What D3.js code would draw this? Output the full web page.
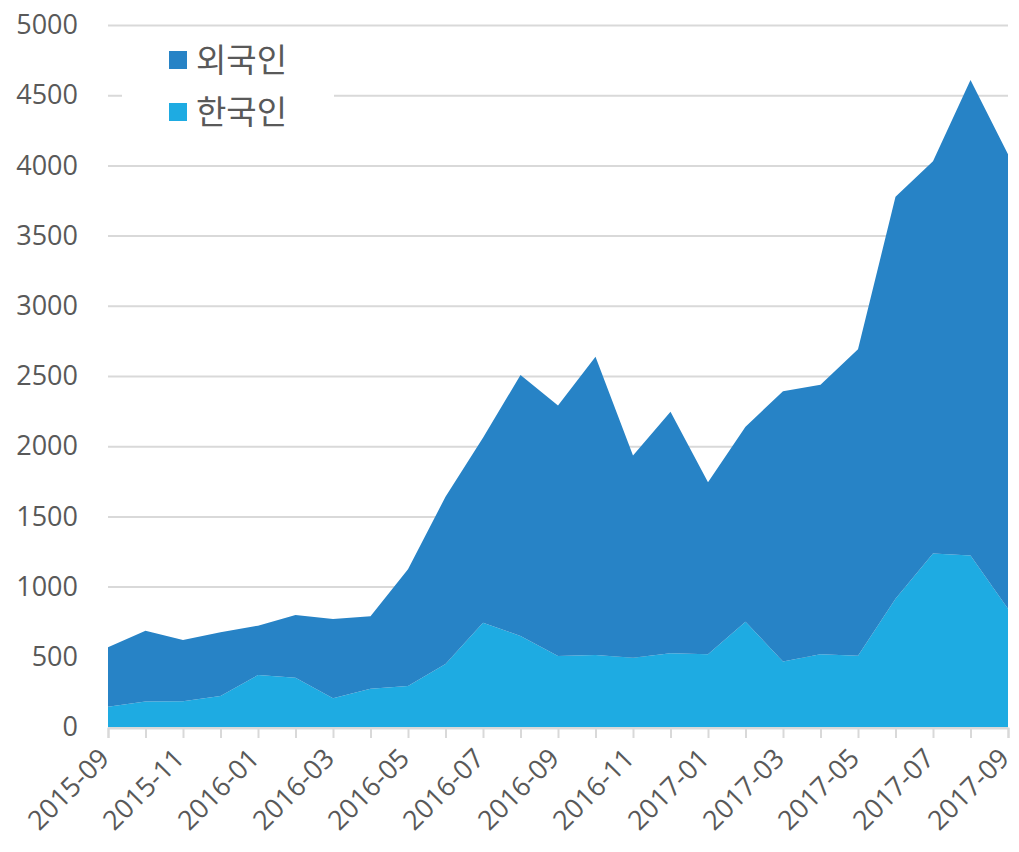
<!DOCTYPE html>
<html>
<head>
<meta charset="utf-8">
<script src="https://cdn.jsdelivr.net/npm/d3@7/dist/d3.min.js"></script>
<style>
  body { margin: 0; background: #fff; }
</style>
</head>
<body>
<script>
// monthly visitors, 2015-09 .. 2017-09
var months = ["2015-09","2015-10","2015-11","2015-12","2016-01","2016-02","2016-03","2016-04",
              "2016-05","2016-06","2016-07","2016-08","2016-09","2016-10","2016-11","2016-12",
              "2017-01","2017-02","2017-03","2017-04","2017-05","2017-06","2017-07","2017-08","2017-09"];
var korean  = [145, 182, 183, 221, 370, 351, 204, 273, 292, 449, 743, 648, 506, 513, 494, 525,
               518, 750, 467, 519, 507, 913, 1236, 1221, 843];
var foreign = [423, 504, 437, 453, 352, 447, 565, 515, 831, 1191, 1317, 1859, 1783, 2125, 1439, 1721,
               1226, 1389, 1924, 1918, 2183, 2863, 2793, 3387, 3237];
var seriesNames  = ["한국인", "외국인"];
var seriesColors = ["#1eabe2", "#2783c6"];
var yTicks = [0, 500, 1000, 1500, 2000, 2500, 3000, 3500, 4000, 4500, 5000];

const width = 1019, height = 852;
const xLeft = 108, xRight = 1008, yTop = 25, yBottom = 727;

const svg = d3.select("body")
              .append("svg")
              .attr("width", width)
              .attr("height", height)
              .style("font-family", "'Open Sans', sans-serif");

var x = d3.scalePoint().domain(months).range([xLeft, xRight]);
var y = d3.scaleLinear().domain([0, 5000]).range([yBottom, yTop]);

// gridlines + y labels
var yAxis = svg.append("g")
  .attr("transform", "translate(" + xLeft + ",0)")
  .call(d3.axisLeft(y).tickValues(yTicks).tickFormat(d3.format("d"))
          .tickSize(-(xRight - xLeft)).tickPadding(30));
yAxis.select(".domain").remove();
yAxis.selectAll("line").attr("stroke", "#d9d9d9").attr("stroke-width", 2);
yAxis.selectAll("text")
  .attr("fill", "#595959")
  .style("font-size", "27px")
  .style("font-family", "'Open Sans', sans-serif");

// stacked data
var table = months.map(function(m, i) {
  return { month: m, "한국인": korean[i], "외국인": foreign[i] };
});
var stack = d3.stack().keys(seriesNames);
var layers = stack(table);

var area = d3.area()
  .x(function(d) { return x(d.data.month); })
  .y0(function(d) { return y(d[0]); })
  .y1(function(d) { return y(d[1]); });

svg.selectAll(".layer")
  .data(layers)
  .enter()
  .append("path")
  .attr("class", "layer")
  .attr("fill", function(d, i) { return seriesColors[i]; })
  .attr("d", area);

// x axis: ticks every month, labels every second month
var xAxis = svg.append("g")
  .attr("transform", "translate(0," + (yBottom + 1) + ")")
  .call(d3.axisBottom(x).tickSize(10).tickFormat(""));
xAxis.select(".domain").attr("stroke", "#d9d9d9").attr("stroke-width", 2);
xAxis.selectAll("line").attr("stroke", "#d9d9d9").attr("stroke-width", 2);

svg.append("g").selectAll("text")
  .data(months.filter(function(m, i) { return i % 2 == 0; }))
  .enter()
  .append("text")
  .attr("transform", function(d) { return "translate(" + (x(d) + 3) + ",760) rotate(-45)"; })
  .attr("text-anchor", "end")
  .attr("fill", "#595959")
  .style("font-size", "27px")
  .text(function(d) { return d; });

// legend
var legend = svg.append("g");
legend.append("rect")
  .attr("x", 122).attr("y", 36)
  .attr("width", 212).attr("height", 100)
  .attr("fill", "#fff");

var legendItems = [seriesNames[1], seriesNames[0]];
var legendColors = [seriesColors[1], seriesColors[0]];
legendItems.forEach(function(name, i) {
  var g = legend.append("g").attr("transform", "translate(169," + (51 + i * 52) + ")");
  g.append("rect").attr("width", 18).attr("height", 18).attr("fill", legendColors[i]);
  g.append("text")
    .attr("x", 27).attr("y", 21)
    .attr("fill", "#595959")
    .style("font-size", "33px")
    .style("font-family", "'Noto Sans CJK KR', sans-serif")
    .text(name);
});
</script>
</body>
</html>
